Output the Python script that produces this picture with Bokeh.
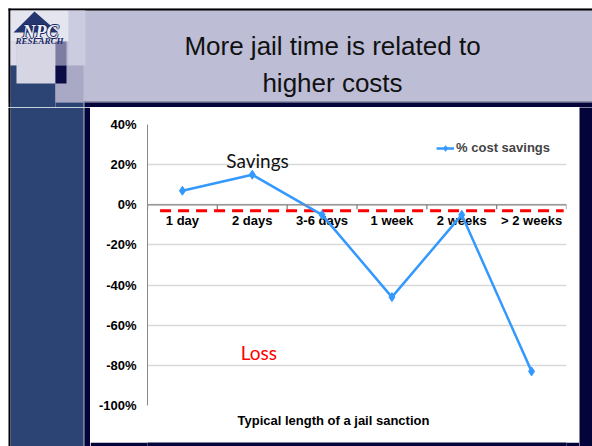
from bokeh.plotting import figure
from bokeh.models import Range1d, FixedTicker, PrintfTickFormatter, Legend, LegendItem, Title, Span
from bokeh.layouts import column, row
from bokeh.embed import file_html
from bokeh.resources import INLINE
from bokeh.core.properties import value

# ---------------- data ----------------
categories = ["1 day", "2 days", "3-6 days", "1 week", "2 weeks", "> 2 weeks"]
cost_savings = [7, 15, -5, -46, -5, -83]
y_ticks = [40, 20, 0, -20, -40, -60, -80, -100]
break_even = -3
series_name = "% cost savings"
title_lines = ["More jail time is related to", "higher costs"]
x_title = "Typical length of a jail sanction"
zone_labels = ["Savings", "Loss"]

# ---------------- styles ----------------
NAVY = "#04043a"
BLUE_COL = "#2c4473"
LAV = "#bdbdd5"
LINE_BLUE = "#3399ff"
SANS = "Liberation Sans"
SERIF = "Liberation Serif"


def deco_fig(w, h, xr, yr, fill="white"):
    f = figure(width=w, height=h, x_range=Range1d(*xr), y_range=Range1d(*yr),
               output_backend="svg", toolbar_location=None,
               x_axis_location=None, y_axis_location=None, min_border=0)
    f.grid.visible = False
    f.outline_line_color = None
    f.background_fill_color = fill
    f.border_fill_color = fill
    return f


def draw_boxes(f, boxes):
    f.quad(left=[b[0] for b in boxes], right=[b[1] for b in boxes],
           top=[b[2] for b in boxes], bottom=[b[3] for b in boxes],
           fill_color=[b[4] for b in boxes], line_color=None)


# ---------------- top band (slide header) ----------------
top = deco_fig(592, 107, (0, 592), (107, 0))
draw_boxes(top, [
    # left, right, top, bottom, color
    (8, 592, 8, 102, LAV),
    (8, 592, 8, 10, "#000000"),
    (8, 10, 8, 107, "#000000"),
    (68, 85, 10, 65, "#cbcce0"),
    (10, 68, 10, 41, "#e4e5ee"),
    (10, 16, 41, 65, "#dcdce8"),
    (10, 55, 65, 107, BLUE_COL),
    (16, 55, 41, 83, "#d5d5e4"),
    (55, 83, 65, 102, "#a9a9c6"),
    (55, 66, 41, 65, "#7d7da3"),
    (55, 66, 65, 83, "#0b0b45"),
    (55, 83, 102, 107, BLUE_COL),
    (83, 592, 100.5, 102, "#8c8cab"),
    (83, 84, 102, 107, "#56668c"),
    (84, 592, 102, 107, NAVY),
])
# logo
top.patch(x=[13, 34, 58], y=[32, 11, 32], fill_color="#24356f", line_color=None)
for dx, dy in [(-1, 0), (1, 0), (0, -1), (0, 1)]:
    top.text(x=[40 + dx], y=[31 + dy], text=["NPC"], text_align="center",
             text_baseline="alphabetic", text_font=value(SERIF), text_font_style="bold italic",
             text_font_size="18px", text_color="#1a2760")
top.text(x=[40], y=[31], text=["NPC"], text_align="center", text_baseline="alphabetic",
         text_font=value(SERIF), text_font_style="bold italic", text_font_size="18px",
         text_color="#eef0f7")
top.text(x=[39], y=[40], text=["RESEARCH"], text_align="center", text_baseline="alphabetic",
         text_font=value(SERIF), text_font_style="bold italic", text_font_size="9px",
         text_color="#1f2d66")
# slide title
top.text(x=[332, 332], y=[45, 82.7], text=title_lines, text_align="center",
         text_baseline="alphabetic", text_font=value(SANS), text_font_size="26px",
         text_color="#111111")

# ---------------- left column ----------------
left = deco_fig(90, 339, (0, 90), (446, 107))
draw_boxes(left, [
    (8, 10, 107, 446, "#000000"),
    (10, 83, 107, 446, BLUE_COL),
    (83, 84, 107, 446, "#56668c"),
    (84, 90, 107, 446, NAVY),
])

# ---------------- right and bottom strips ----------------
right = deco_fig(13, 339, (0, 1), (0, 1), fill=NAVY)
bottom = deco_fig(489, 8, (0, 1), (0, 1), fill=NAVY)

# ---------------- chart ----------------
n = len(categories)
xs = list(range(n))
p = figure(width=489, height=331, x_range=Range1d(-0.5, n - 0.5),
           y_range=Range1d(min(y_ticks), max(y_ticks)),
           output_backend="svg", toolbar_location=None,
           x_axis_location=None, y_axis_location="left",
           min_border_left=57, min_border_right=13, min_border_top=17, min_border_bottom=33)
p.outline_line_color = None
p.background_fill_color = "white"
p.border_fill_color = "white"
for g in p.grid:
    if g.dimension == 0:
        g.visible = False

p.yaxis.ticker = FixedTicker(ticks=y_ticks)
p.yaxis.formatter = PrintfTickFormatter(format="%d%%")
p.yaxis.axis_line_color = "#888888"
p.yaxis.major_tick_in = 0
p.yaxis.major_tick_out = 0
p.yaxis.minor_tick_line_color = None
p.yaxis.major_label_standoff = 11
p.yaxis.major_label_text_font = SANS
p.yaxis.major_label_text_font_style = "bold"
p.yaxis.major_label_text_font_size = "13px"
p.yaxis.major_label_text_color = "#000000"
p.ygrid.ticker = FixedTicker(ticks=y_ticks)
p.ygrid.grid_line_color = "#d9d9d9"
p.ygrid.grid_line_width = 1.3

# category labels at the zero-crossing axis
p.text(x=xs, y=[0] * n, text=categories, text_align="center", text_baseline="middle",
       y_offset=16, text_font=value(SANS), text_font_style="bold", text_font_size="13px",
       text_color="#000000")

# zero axis line and category boundary ticks
p.add_layout(Span(location=0, dimension="width", line_color="#868686", line_width=1.3))
tick_x = [i - 0.5 for i in range(n + 1)]
p.segment(x0=tick_x, x1=tick_x, y0=[0] * (n + 1), y1=[-2.2] * (n + 1),
          line_color="#868686", line_width=1.3)

# break-even dashed line
p.segment(x0=[-0.32], x1=[n - 0.54], y0=[break_even], y1=[break_even],
          line_color="#ff0000", line_width=3, line_dash="11 7")

# series
line_r = p.line(xs, cost_savings, line_color=LINE_BLUE, line_width=2.5)
pts_r = p.scatter(xs, cost_savings, marker="diamond", size=9, fill_color=LINE_BLUE,
                  line_color=LINE_BLUE)

# zone texts
p.text(x=[1.075], y=[22.1], text=[zone_labels[0]], text_align="center",
       text_baseline="alphabetic", text_font=value("Lato"), text_font_size="19px",
       text_color="#111111")
p.text(x=[1.094], y=[-73.8], text=[zone_labels[1]], text_align="center",
       text_baseline="alphabetic", text_font=value("Lato"), text_font_size="19px",
       text_color="#ff0000")

legend = Legend(items=[LegendItem(label=series_name, renderers=[line_r, pts_r])],
                location="top_right", border_line_color=None, background_fill_alpha=0,
                label_text_font=SANS, label_text_font_style="bold",
                label_text_font_size="13px", glyph_width=18, glyph_height=14,
                label_height=14, label_standoff=2, padding=0, margin=16, spacing=0)
p.add_layout(legend)

xt = Title(text=x_title, align="left", offset=90, text_font=SANS,
           text_font_style="bold", text_font_size="13px", text_color="#000000")
p.add_layout(xt, "below")

page = column(top, row(left, column(p, bottom), right))
open("out.html", "w").write(file_html(page, INLINE))
